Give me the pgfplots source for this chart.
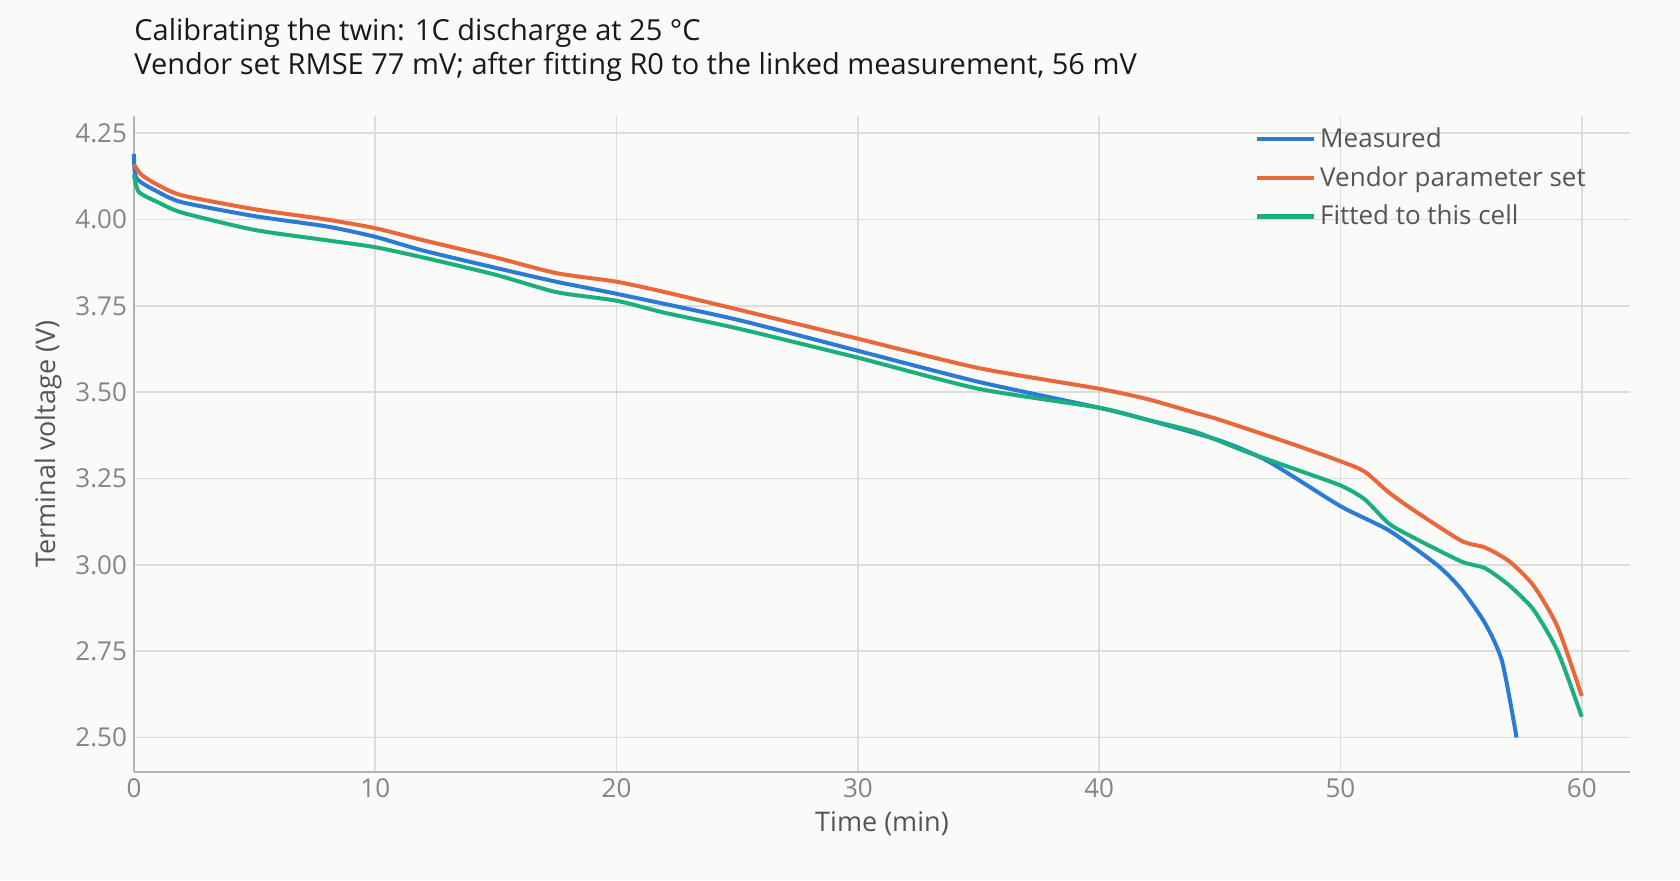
\documentclass[border=0pt]{standalone}
\usepackage{pgfplots}
\pgfplotsset{compat=1.18}
\usepackage{fontspec}
\setmainfont{Open Sans}
\definecolor{bg}{HTML}{FAFAF8}
\definecolor{cB}{HTML}{2A7AD6}
\definecolor{cO}{HTML}{E9673A}
\definecolor{cG}{HTML}{1BAE7E}
\definecolor{gr}{HTML}{DDDDDD}
\definecolor{tk}{HTML}{858585}
\definecolor{lb}{HTML}{555555}
\begin{document}
\begin{tikzpicture}
\fill[bg] (-67pt,-54pt) rectangle (773pt,386pt);
\begin{axis}[
 scale only axis, width=748pt, height=328pt,
 xmin=0, xmax=62, ymin=2.40, ymax=4.30,
 xtick={0,10,...,60}, ytick={2.5,2.75,...,4.25},
 yticklabel style={/pgf/number format/.cd,fixed,fixed zerofill,precision=2},
 /pgf/number format/assume math mode=true,
 grid=major, grid style={gr, line width=0.8pt},
 axis lines*=left, axis line style={draw=black!30, line width=0.8pt},
 tick style={draw=none},
 ticklabel style={font=\fontsize{13}{15}\selectfont, text=tk},
 xlabel={Time (min)}, ylabel={Terminal voltage (V)},
 label style={font=\fontsize{13.5}{15}\selectfont, text=lb},
 legend style={draw=none, fill=none, at={(0.745,0.995)}, anchor=north west, font=\fontsize{13}{15}\selectfont, text=lb, row sep=4pt},
 legend cell align=left,
 legend image code/.code={\draw[#1, line width=2.2pt] (0cm,0cm) -- (1cm,0cm);},
 every axis plot/.append style={line width=2pt, smooth, tension=0.4},
 clip=false,
]
\addplot[cB] coordinates {(0,4.19)(0.1,4.12)(1,4.08)(2,4.05)(5,4.01)(8,3.98)(10,3.95)(12,3.91)(15,3.86)(17.5,3.82)(20,3.785)(25,3.71)(30,3.62)(35,3.53)(40,3.455)(42,3.42)(45,3.36)(47,3.30)(50,3.17)(52,3.10)(54,3.00)(55,2.93)(56,2.83)(56.7,2.72)(57.3,2.50)};
\addplot[cO] coordinates {(0,4.16)(0.3,4.13)(1,4.10)(2,4.07)(5,4.03)(8,4.00)(10,3.975)(12,3.94)(15,3.89)(17.5,3.845)(20,3.82)(22,3.79)(25,3.74)(30,3.655)(35,3.57)(40,3.51)(42,3.48)(44,3.44)(45,3.42)(48,3.35)(50,3.30)(51,3.27)(52,3.21)(53,3.16)(55,3.07)(56,3.05)(57,3.01)(58,2.94)(59,2.82)(60,2.62)};
\addplot[cG] coordinates {(0,4.13)(0.2,4.08)(1,4.05)(2,4.02)(5,3.97)(8,3.94)(10,3.92)(12,3.89)(15,3.84)(17.5,3.79)(20,3.765)(22,3.73)(25,3.685)(30,3.60)(35,3.51)(40,3.455)(42,3.42)(44,3.385)(46,3.33)(48,3.28)(50,3.23)(51,3.19)(52,3.12)(53,3.08)(55,3.01)(56,2.99)(57,2.94)(58,2.87)(59,2.75)(60,2.56)};
\legend{Measured, Vendor parameter set, Fitted to this cell}
\node[anchor=south west, align=left, font=\fontsize{14.5}{17}\selectfont, text=black!90, inner sep=0pt] at (rel axis cs:0,1) [yshift=17pt] {Calibrating the twin: 1C discharge at 25 °C\\Vendor set RMSE 77 mV; after fitting R0 to the linked measurement, 56 mV};
\end{axis}
\end{tikzpicture}
\end{document}
